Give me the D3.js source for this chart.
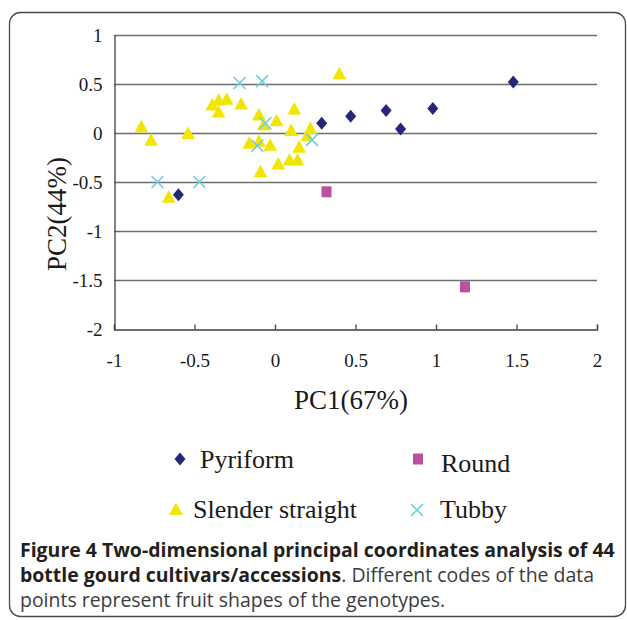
<!DOCTYPE html>
<html>
<head>
<meta charset="utf-8">
<script src="https://cdn.jsdelivr.net/npm/d3@7"></script>
<style>
  html, body { margin: 0; padding: 0; background: #fff; }
  svg { display: block; }
</style>
</head>
<body>
<div id="chart"></div>
<script>
// values, [PC1, PC2]
const pyriform = [[-0.60, -0.63], [0.29, 0.10], [0.47, 0.17], [0.69, 0.23], [0.78, 0.04], [0.98, 0.25], [1.48, 0.52]]
const round = [[0.32, -0.60], [1.18, -1.57]]
const slender = [
  [-0.83, 0.07], [-0.77, -0.07], [-0.54, 0.00], [-0.66, -0.65], [-0.39, 0.29],
  [-0.35, 0.34], [-0.30, 0.35], [-0.35, 0.22], [-0.21, 0.30], [0.40, 0.61],
  [-0.10, 0.19], [-0.07, 0.09], [0.01, 0.13], [0.12, 0.25], [0.10, 0.03],
  [0.22, 0.05], [0.20, -0.02], [-0.16, -0.10], [-0.10, -0.08], [-0.03, -0.12],
  [0.15, -0.14], [0.02, -0.31], [0.09, -0.27], [0.14, -0.27], [-0.09, -0.39]
]
const tubby = [[-0.73, -0.50], [-0.47, -0.50], [-0.22, 0.51], [-0.08, 0.53], [-0.06, 0.10], [-0.11, -0.13], [0.23, -0.07]]

const xTicks = [-1, -0.5, 0, 0.5, 1, 1.5, 2]
const yTicks = [1, 0.5, 0, -0.5, -1, -1.5, -2]
const seriesNames = ['Pyriform', 'Round', 'Slender straight', 'Tubby']

const W = 627, H = 620
const svg = d3.select('#chart').append('svg').attr('width', W).attr('height', H)

// outer frame (rounded box round the figure)
svg.append('rect').attr('x', 9.5).attr('y', 12.5).attr('width', 616).attr('height', 604)
  .attr('rx', 11).attr('fill', 'none').attr('stroke', '#4a4a4a').attr('stroke-width', 1.3)

const x = d3.scaleLinear().domain([-1, 2]).range([114, 597])
const y = d3.scaleLinear().domain([-2, 1]).range([329, 35])

const serif = '"Liberation Serif", "Times New Roman", serif'

// gridlines
svg.append('g').selectAll('line').data(yTicks.filter(d => d !== -2)).join('line')
  .attr('x1', x(-1)).attr('x2', x(2))
  .attr('y1', d => Math.round(y(d)) + 0.5).attr('y2', d => Math.round(y(d)) + 0.5)
  .attr('stroke', '#6e6e6e').attr('stroke-width', 1.3)

// axes
const gx = svg.append('g').attr('transform', `translate(0,${Math.round(y(-2)) + 0.5})`)
  .call(d3.axisBottom(x).tickValues(xTicks).tickFormat(d => String(d)).tickSize(-5).tickPadding(24))
const gy = svg.append('g').attr('transform', `translate(${Math.round(x(-1)) + 0.5},0)`)
  .call(d3.axisLeft(y).tickValues(yTicks).tickFormat(d => String(d)).tickSize(0).tickPadding(12))
for (const g of [gx, gy]) {
  g.select('.domain').attr('stroke', '#404040').attr('stroke-width', 1.3)
  g.selectAll('.tick line').attr('stroke', '#404040').attr('stroke-width', 1.3)
  g.selectAll('.tick text').attr('font-family', serif).attr('font-size', 19).attr('fill', '#1a1a1a')
}

// axis titles
svg.append('text').attr('x', 351).attr('y', 409).attr('text-anchor', 'middle')
  .attr('font-family', serif).attr('font-size', 27).attr('fill', '#1a1a1a').text('PC1(67%)')
svg.append('text').attr('transform', 'translate(66,214) rotate(-90)').attr('text-anchor', 'middle')
  .attr('font-family', serif).attr('font-size', 27).attr('fill', '#1a1a1a').text('PC2(44%)')

// marker painters
const colors = { diamond: '#27277a', square: '#bd4fa0', triangle: '#f2e600', cross: '#6fcde0' }
function drawMarker(sel, kind) {
  if (kind === 'diamond') {
    sel.append('path').attr('d', 'M0,-6.5L5.5,0L0,6.5L-5.5,0Z').attr('fill', colors.diamond)
  } else if (kind === 'square') {
    sel.append('rect').attr('x', -5).attr('y', -5.5).attr('width', 10).attr('height', 11).attr('fill', colors.square)
  } else if (kind === 'triangle') {
    sel.append('path').attr('d', 'M0,-6.5L6.8,6L-6.8,6Z').attr('fill', colors.triangle)
  } else {
    sel.append('path').attr('d', 'M-6,-6L6,6M-6,6L6,-6').attr('stroke', colors.cross)
      .attr('stroke-width', 1.6).attr('fill', 'none')
  }
}

const series = [
  { data: slender, kind: 'triangle' },
  { data: tubby, kind: 'cross' },
  { data: round, kind: 'square' },
  { data: pyriform, kind: 'diamond' }
]
const plot = svg.append('g')
series.forEach(s => {
  plot.append('g').selectAll('g').data(s.data).join('g')
    .attr('transform', d => `translate(${x(d[0])},${y(d[1])})`)
    .each(function () { drawMarker(d3.select(this), s.kind) })
})

// legend
const legendItems = [
  { name: seriesNames[0], kind: 'diamond', mx: 180, my: 459, tx: 200, ty: 468 },
  { name: seriesNames[1], kind: 'square', mx: 418, my: 459, tx: 441, ty: 472 },
  { name: seriesNames[2], kind: 'triangle', mx: 176, my: 509, tx: 193, ty: 518 },
  { name: seriesNames[3], kind: 'cross', mx: 417, my: 510, tx: 440, ty: 518 }
]
const legend = svg.append('g')
legendItems.forEach(it => {
  const m = legend.append('g').attr('transform', `translate(${it.mx},${it.my})`)
  drawMarker(m, it.kind)
  legend.append('text').attr('x', it.tx).attr('y', it.ty)
    .attr('font-family', serif).attr('font-size', 26).attr('fill', '#1a1a1a').text(it.name)
})

// caption
const sans = '"Open Sans", "Noto Sans", sans-serif'
const cap = svg.append('g').attr('font-family', sans).attr('fill', '#231f20')
const l1 = cap.append('text').attr('x', 20).attr('y', 557).attr('font-weight', 'bold').attr('font-size', 16)
  .text('Figure 4 Two-dimensional principal coordinates analysis of 44')
// fit the first line to the figure width, then reuse the size
const fs = 16 * 595 / l1.node().getComputedTextLength()
l1.attr('font-size', fs)
const l2 = cap.append('text').attr('x', 20).attr('y', 582).attr('font-size', fs)
l2.append('tspan').attr('font-weight', 'bold').text('bottle gourd cultivars/accessions')
l2.append('tspan').attr('fill', '#3c3c3c').text('. Different codes of the data')
cap.append('text').attr('x', 20).attr('y', 607).attr('font-size', fs).attr('fill', '#3c3c3c')
  .text('points represent fruit shapes of the genotypes.')
</script>
</body>
</html>
